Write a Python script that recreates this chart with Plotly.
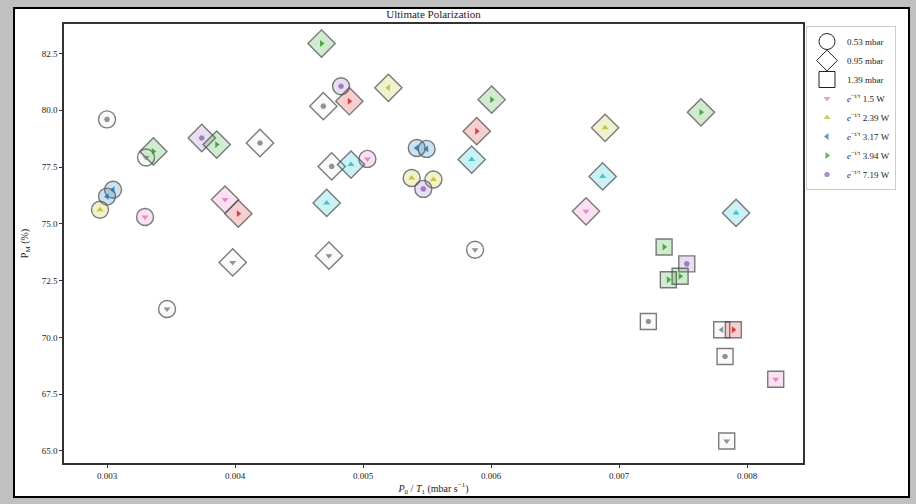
import plotly.graph_objects as go

# ---- data ----
x_vals = [0.0030, 0.003047, 0.0030, 0.002945, 0.003305, 0.003297, 0.003469, 0.004828, 0.005034,
          0.00542, 0.005497, 0.00538, 0.00555, 0.005471, 0.005875,
          0.004676, 0.00469, 0.004893, 0.005198, 0.006005, 0.005888, 0.005849, 0.004755, 0.004906,
          0.004716, 0.00374, 0.003857, 0.004195, 0.003362, 0.003922, 0.004026, 0.003982, 0.004734,
          0.006742, 0.006891, 0.006872, 0.00764, 0.007914,
          0.007352, 0.007529, 0.007477, 0.007385, 0.007229, 0.007802, 0.007893, 0.007828, 0.008224, 0.007841]
y_vals = [79.6, 76.5, 76.2, 75.62, 77.92, 75.3, 71.25, 81.06, 77.86,
          78.34, 78.3, 77.02, 76.95, 76.54, 73.86,
          82.94, 80.18, 80.4, 80.99, 80.47, 79.08, 77.83, 77.53, 77.61,
          75.92, 78.78, 78.49, 78.56, 78.19, 76.07, 75.45, 73.3, 73.6,
          75.55, 79.23, 77.09, 79.91, 75.48,
          73.98, 73.24, 72.69, 72.54, 70.7, 70.34, 70.34, 69.16, 68.16, 65.44]
pressure = (["0.53 mbar"] * 15 + ["0.95 mbar"] * 23 + ["1.39 mbar"] * 10)
power = ["7.19 W", "3.17 W", "3.17 W", "2.39 W", "1.5 W", "1.5 W", "1.5 W", "7.19 W", "1.5 W",
         "3.17 W", "3.17 W", "2.39 W", "2.39 W", "7.19 W", "1.5 W",
         "3.94 W", "7.19 W", "3.94 W", "3.17 W", "3.94 W", "3.94 W", "2.39 W", "7.19 W", "2.39 W",
         "2.39 W", "7.19 W", "3.94 W", "7.19 W", "3.94 W", "1.5 W", "3.94 W", "1.5 W", "1.5 W",
         "1.5 W", "2.39 W", "2.39 W", "3.94 W", "2.39 W",
         "3.94 W", "7.19 W", "3.94 W", "3.94 W", "7.19 W", "3.17 W", "3.94 W", "7.19 W", "1.5 W", "1.5 W"]
color_key = ["gray", "blue", "blue", "olive", "gray", "pink", "gray", "purple", "pink",
             "blue", "blue", "olive", "olive", "purple", "gray",
             "green", "gray", "red", "olive", "green", "red", "cyan", "gray", "cyan",
             "cyan", "purple", "green", "gray", "green", "pink", "red", "gray", "gray",
             "pink", "olive", "cyan", "green", "cyan",
             "green", "purple", "green", "green", "gray", "gray", "red", "gray", "pink", "gray"]

pressure_levels = ["0.53 mbar", "0.95 mbar", "1.39 mbar"]
power_levels = ["1.5 W", "2.39 W", "3.17 W", "3.94 W", "7.19 W"]
x_ticks = [0.003, 0.004, 0.005, 0.006, 0.007, 0.008]
y_ticks = [65.0, 67.5, 70.0, 72.5, 75.0, 77.5, 80.0, 82.5]

# ---- styles ----
palette = {"blue": (31, 119, 180), "orange": (255, 127, 14), "green": (44, 160, 44),
           "red": (214, 39, 40), "purple": (148, 103, 189), "pink": (227, 119, 194),
           "gray": (127, 127, 127), "olive": (188, 189, 34), "cyan": (23, 190, 207)}
outer_symbol = {"0.53 mbar": "circle", "0.95 mbar": "diamond", "1.39 mbar": "square"}
outer_size = {"0.53 mbar": 17, "0.95 mbar": 21, "1.39 mbar": 16}
inner_symbol = {"1.5 W": "triangle-down", "2.39 W": "triangle-up", "3.17 W": "triangle-left",
                "3.94 W": "triangle-right", "7.19 W": "hexagon2"}
legend_color = {"1.5 W": "pink", "2.39 W": "olive", "3.17 W": "blue",
                "3.94 W": "green", "7.19 W": "purple"}


def rgba(key, a):
    r, g, b = palette[key]
    return f"rgba({r},{g},{b},{a})"


FONT = "Liberation Serif, Times New Roman, serif"
fig = go.Figure()

# outer shapes (pressure)
for p in pressure_levels:
    idx = [i for i, v in enumerate(pressure) if v == p]
    fig.add_trace(go.Scatter(
        x=[x_vals[i] for i in idx], y=[y_vals[i] for i in idx], mode="markers",
        marker=dict(symbol=outer_symbol[p], size=outer_size[p],
                    color=[rgba(color_key[i], 0.22 if color_key[i] != "gray" else 0.04) for i in idx],
                    line=dict(color="rgba(80,80,80,0.75)", width=1.4)),
        showlegend=False, hoverinfo="skip"))

# inner markers (power)
for w in power_levels:
    idx = [i for i, v in enumerate(power) if v == w]
    fig.add_trace(go.Scatter(
        x=[x_vals[i] for i in idx], y=[y_vals[i] for i in idx], mode="markers",
        marker=dict(symbol=inner_symbol[w], size=6,
                    color=[rgba(color_key[i], 0.85) for i in idx], line=dict(width=0)),
        showlegend=False))

# legend entries
for p in pressure_levels:
    fig.add_trace(go.Scatter(
        x=[None], y=[None], mode="markers", name=p,
        marker=dict(symbol=outer_symbol[p], size=16, color="rgba(255,255,255,0)",
                    line=dict(color="#222", width=1))))
for w in power_levels:
    fig.add_trace(go.Scatter(
        x=[None], y=[None], mode="markers",
        name=f"<i>e</i><sup>−t/τ</sup> {w}",
        marker=dict(symbol=inner_symbol[w], size=6, color=rgba(legend_color[w], 0.75))))

# white page with black frame on grey background
L, R, T, B = 64, 803, 24, 463
pw, ph = R - L, B - T
fig.add_shape(type="rect", xref="paper", yref="paper",
              x0=(14 - L) / pw, x1=(909 - L) / pw, y0=(B - 497) / ph, y1=(B - 8) / ph,
              fillcolor="white", line=dict(color="black", width=2), layer="below")

axis_common = dict(showline=True, mirror=True, linecolor="#333", linewidth=1.5,
                   ticks="outside", ticklen=3, tickcolor="#333", showgrid=False, zeroline=False,
                   tickfont=dict(family=FONT, size=9, color="#222"))
fig.update_layout(
    width=916, height=504,
    margin=dict(l=L, r=916 - R, t=T, b=504 - B),
    paper_bgcolor="#c0c0c0", plot_bgcolor="white",
    font=dict(family=FONT, size=10, color="#222"),
    title=dict(text="Ultimate Polarization", x=0.5, xref="paper", y=1 - 14 / 504,
               yanchor="middle", font=dict(family=FONT, size=11, color="#222")),
    xaxis=dict(range=[0.002664, 0.008437], tickvals=x_ticks,
               ticktext=[f"{v:.3f}" for v in x_ticks],
               title=dict(text="<i>P</i><sub>0</sub> / <i>T</i><sub>1</sub> (mbar s<sup>−1</sup>)",
                          font=dict(family=FONT, size=10), standoff=5),
               **axis_common),
    yaxis=dict(range=[64.47, 83.8], tickvals=y_ticks,
               ticktext=[f"{v:.1f}" for v in y_ticks],
               title=dict(text="P<sub>M</sub> (%)", font=dict(family=FONT, size=10), standoff=11),
               **axis_common),
    legend=dict(x=(806 - L) / pw, y=(B - 26) / ph, xanchor="left", yanchor="top",
                bgcolor="white", bordercolor="#ccc", borderwidth=1,
                font=dict(family=FONT, size=9, color="#222"), tracegroupgap=0,
                itemwidth=30),
)

fig.write_html("out.html", config={"displayModeBar": False},
               post_script="document.body.style.margin='0';")
